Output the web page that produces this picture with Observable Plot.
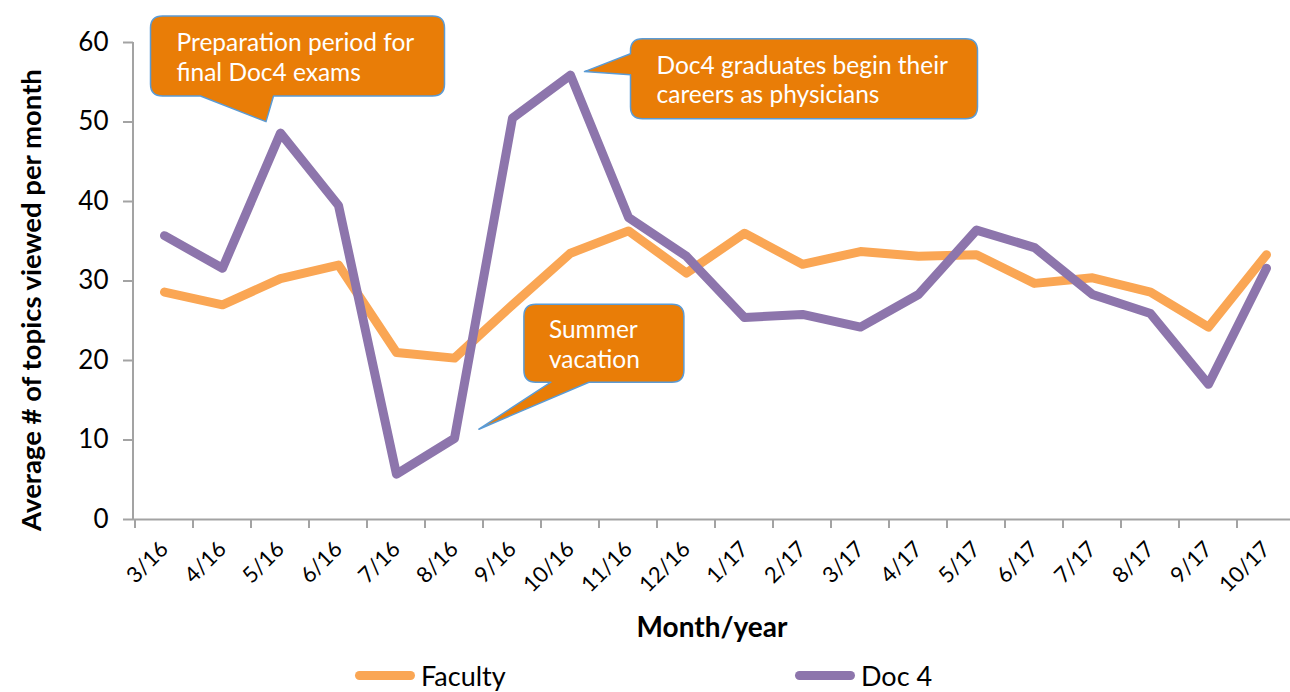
<!DOCTYPE html>
<html>
<head>
<meta charset="utf-8">
<script src="https://cdn.jsdelivr.net/npm/d3@7"></script>
<script src="https://cdn.jsdelivr.net/npm/@observablehq/plot@0.6"></script>
<style>
  html, body { margin: 0; padding: 0; background: #fff; }
  body { width: 1290px; height: 692px; overflow: hidden; font-family: Lato, "Open Sans", sans-serif; }
  #legend { position: relative; height: 37px; width: 1290px; }
  .item { position: absolute; top: 2px; height: 37px; display: flex; align-items: center; font-size: 27px; color: #000; }
  .swatch { width: 60px; height: 9px; border-radius: 5px; margin-right: 6px; }
</style>
</head>
<body>
<div id="chart"></div>
<div id="legend"></div>
<script>
// ---- data ----
const months = ["3/16","4/16","5/16","6/16","7/16","8/16","9/16","10/16","11/16","12/16","1/17","2/17","3/17","4/17","5/17","6/17","7/17","8/17","9/17","10/17"];
const faculty = [28.6,27.0,30.3,32.0,21.0,20.3,27.0,33.5,36.3,31.0,36.0,32.1,33.7,33.1,33.3,29.7,30.4,28.6,24.2,33.3];
const doc4 = [35.7,31.6,48.6,39.5,5.7,10.2,50.5,55.9,38.0,33.1,25.4,25.8,24.2,28.3,36.4,34.2,28.3,25.9,17.0,31.6];
const seriesNames = ["Faculty", "Doc 4"];
const seriesColors = ["#FAA654", "#8D75AC"];
const yTicks = [0, 10, 20, 30, 40, 50, 60];
const yTitle = "Average # of topics viewed per month";
const xTitle = "Month/year";
const calloutTexts = [
  ["Preparation period for", "final Doc4 exams"],
  ["Doc4 graduates begin their", "careers as physicians"],
  ["Summer", "vacation"]
];
const calloutTargets = [["5/16", "Doc 4"], ["10/16", "Doc 4"], ["8/16", "Doc 4"]];

// ---- table ----
const rows = [];
months.forEach((m, i) => {
  rows.push({month: m, series: "Faculty", value: faculty[i]});
  rows.push({month: m, series: "Doc 4", value: doc4[i]});
});

const W = 1290, H = 655;
const AXIS = "#a3a3a3";
const FONT = "Lato, 'Open Sans', sans-serif";

const plot = Plot.plot({
  width: W, height: H,
  marginTop: 42, marginBottom: H - 519, marginLeft: 133, marginRight: 0,
  style: {fontFamily: FONT, background: "#fff", overflow: "visible"},
  x: {type: "point", domain: months, range: [133, 1297], padding: 0.5, label: null},
  y: {domain: [0, 60], label: null},
  color: {domain: seriesNames, range: seriesColors},
  marks: [
    Plot.ruleY([0], {stroke: AXIS, strokeWidth: 2}),
    Plot.axisY({ticks: yTicks, tickSize: 10, tickPadding: 15, fontSize: 26, stroke: AXIS, strokeWidth: 2, fill: "#000", label: null}),
    Plot.axisX({tickSize: 0, tickRotate: -45, tickPadding: 26, fontSize: 22, fill: "#000", label: null}),
    Plot.line(rows, {x: "month", y: "value", z: "series", stroke: "series", strokeWidth: 9, strokeLinejoin: "round", strokeLinecap: "round"}),
    Plot.text([xTitle], {frameAnchor: "bottom", dy: 109, lineAnchor: "middle", fontSize: 28, fontWeight: "bold", fill: "#000"})
  ]
});
document.getElementById("chart").appendChild(plot);

const svg = d3.select(plot);
const xs = plot.scale("x"), ys = plot.scale("y");
const step = (xs.apply(months[1]) - xs.apply(months[0]));
const y0 = ys.apply(0);

// y axis title
svg.append("text").attr("transform", `translate(30,300) rotate(-90)`)
  .attr("text-anchor", "middle").attr("dominant-baseline", "central")
  .attr("font-size", 27.5).attr("font-weight", "bold").attr("font-family", FONT).attr("fill", "#000")
  .text(yTitle);

// y axis line
svg.append("line").attr("x1", 133).attr("x2", 133).attr("y1", ys.apply(60)).attr("y2", y0)
  .attr("stroke", AXIS).attr("stroke-width", 2);
// x boundary ticks
const bounds = months.map(m => xs.apply(m) - step / 2).concat([xs.apply(months[months.length - 1]) + step / 2]);
svg.append("g").selectAll("line").data(bounds).join("line")
  .attr("x1", d => d).attr("x2", d => d).attr("y1", y0).attr("y2", y0 + 9)
  .attr("stroke", AXIS).attr("stroke-width", 2);

// ---- callouts (layout offsets relative to target point) ----
const calloutLayout = [
  {box: [-129.5, -116.6, 164.5, -36.6], tip: [-14, -11], side: "bottom", base: [-79.5, -6.5], pad: 26},
  {box: [60.5, -35.8, 407.5, 44.2], tip: [14.5, -3], side: "left", base: [-20.8, 0.2], pad: 26},
  {box: [69.9, -133.7, 229.9, -55.7], tip: [24.9, -8.7], side: "bottom", base: [96.9, 134.9], pad: 25}
];
const g = svg.append("g").attr("text-anchor", "start");
calloutTargets.forEach(([m, s], i) => {
  const vals = s === "Doc 4" ? doc4 : faculty;
  const px = xs.apply(m), py = ys.apply(vals[months.indexOf(m)]);
  const L = calloutLayout[i];
  const x0 = px + L.box[0], yT = py + L.box[1], x1 = px + L.box[2], yB = py + L.box[3];
  const tx = px + L.tip[0], ty = py + L.tip[1];
  const r = 12;
  let p = `M${x0 + r},${yT} L${x1 - r},${yT} Q${x1},${yT} ${x1},${yT + r} L${x1},${yB - r} Q${x1},${yB} ${x1 - r},${yB}`;
  if (L.side === "bottom") {
    const b0 = px + L.base[0], b1 = px + L.base[1];
    p += ` L${b1},${yB} L${tx},${ty} L${b0},${yB}`;
    p += ` L${x0 + r},${yB} Q${x0},${yB} ${x0},${yB - r} L${x0},${yT + r} Q${x0},${yT} ${x0 + r},${yT} Z`;
  } else {
    const b0 = py + L.base[0], b1 = py + L.base[1];
    p += ` L${x0 + r},${yB} Q${x0},${yB} ${x0},${yB - r} L${x0},${b1} L${tx},${ty} L${x0},${b0} L${x0},${yT + r} Q${x0},${yT} ${x0 + r},${yT} Z`;
  }
  g.append("path").attr("d", p).attr("fill", "#E97D07").attr("stroke", "#5B9BD5").attr("stroke-width", 1.5).attr("stroke-linejoin", "round");
  const cy = (yT + yB) / 2;
  calloutTexts[i].forEach((t, j) => {
    g.append("text").attr("x", x0 + L.pad).attr("y", cy - 5 + j * 29.5).attr("text-anchor", "start")
      .attr("fill", "#fff").attr("font-size", 24.5).attr("font-family", FONT).text(t);
  });
});

// ---- legend ----
const legend = d3.select("#legend");
const legendX = [355, 795];
seriesNames.forEach((n, i) => {
  const it = legend.append("div").attr("class", "item").style("left", legendX[i] + "px");
  it.append("div").attr("class", "swatch").style("background", seriesColors[i]);
  it.append("span").text(n);
});
</script>
</body>
</html>
